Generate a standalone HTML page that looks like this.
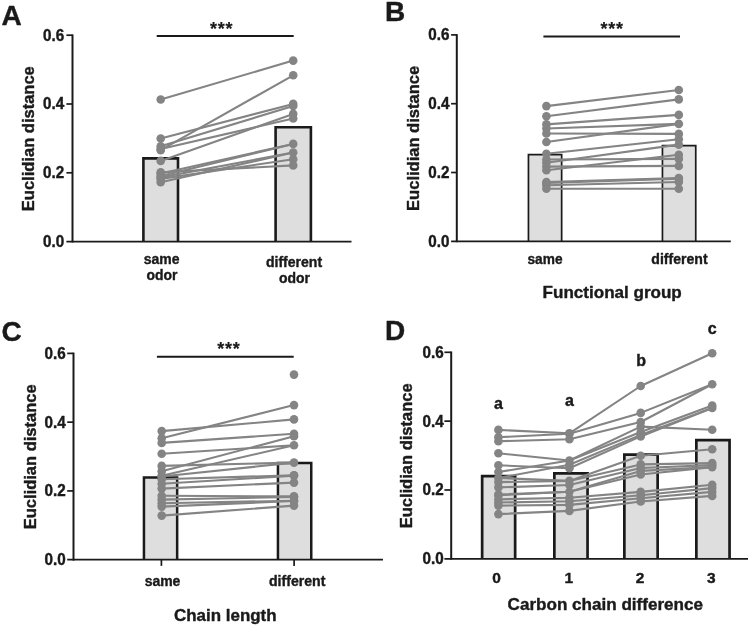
<!DOCTYPE html>
<html lang="en"><head><meta charset="utf-8"><title>Euclidian distance figure</title>
<style>html,body{margin:0;padding:0;background:#fff}body{width:749px;height:626px;overflow:hidden}svg{display:block;will-change:transform}text{font-family:"Liberation Sans",Arial,Helvetica,sans-serif;font-weight:700;stroke:#1a1a1a;stroke-width:.4px;stroke-linejoin:round}</style>
</head><body>
<svg width="749" height="626" viewBox="0 0 749 626" font-family='"Liberation Sans", Arial, Helvetica, sans-serif' font-weight="bold">
<rect width="749" height="626" fill="#ffffff"/>
<g>
<path d="M143.4 241.6 V158.4 H178.0 V241.6" fill="#dedede" stroke="#1a1a1a" stroke-width="2.6" stroke-linejoin="miter"/>
<path d="M275.6 241.6 V127.2 H310.9 V241.6" fill="#dedede" stroke="#1a1a1a" stroke-width="2.6" stroke-linejoin="miter"/>
<path d="M72.5 34.4 V242.5" stroke="#1a1a1a" stroke-width="2" fill="none"/>
<path d="M66.4 241.6 H351.5" stroke="#1a1a1a" stroke-width="1.8" fill="none"/>
<text x="64.2" y="247.0" font-size="15.6" text-anchor="end" fill="#1a1a1a" textLength="21.2" lengthAdjust="spacingAndGlyphs">0.0</text>
<path d="M66.4 172.8 H72.5" stroke="#1a1a1a" stroke-width="1.7" fill="none"/>
<text x="64.2" y="178.2" font-size="15.6" text-anchor="end" fill="#1a1a1a" textLength="21.2" lengthAdjust="spacingAndGlyphs">0.2</text>
<path d="M66.4 104.0 H72.5" stroke="#1a1a1a" stroke-width="1.7" fill="none"/>
<text x="64.2" y="109.4" font-size="15.6" text-anchor="end" fill="#1a1a1a" textLength="21.2" lengthAdjust="spacingAndGlyphs">0.4</text>
<path d="M66.4 35.2 H72.5" stroke="#1a1a1a" stroke-width="1.7" fill="none"/>
<text x="64.2" y="40.6" font-size="15.6" text-anchor="end" fill="#1a1a1a" textLength="21.2" lengthAdjust="spacingAndGlyphs">0.6</text>
<text x="34.4" y="138.7" font-size="16.5" text-anchor="middle" fill="#1a1a1a" textLength="145" lengthAdjust="spacingAndGlyphs" transform="rotate(-90 34.4 138.7)">Euclidian distance</text>
<g stroke="#848484" stroke-width="2.1" fill="none" stroke-linecap="round" stroke-linejoin="round"><path d="M160.7 99.5 L293.2 60.6"/><path d="M160.7 150.2 L293.2 75.3"/><path d="M160.7 138.5 L293.2 103.9"/><path d="M160.7 146.2 L293.2 106"/><path d="M160.7 160.9 L293.2 113.9"/><path d="M160.7 149 L293.2 118.5"/><path d="M160.7 172.3 L293.2 165.4"/><path d="M160.7 173.6 L293.2 143.9"/><path d="M160.7 176.1 L293.2 143.9"/><path d="M160.7 177.4 L293.2 152.5"/><path d="M160.7 178.9 L293.2 159.2"/><path d="M160.7 182.3 L293.2 152.5"/></g>
<g fill="#848484"><circle cx="160.7" cy="99.5" r="4.3"/><circle cx="293.2" cy="60.6" r="4.3"/><circle cx="160.7" cy="150.2" r="4.3"/><circle cx="293.2" cy="75.3" r="4.3"/><circle cx="160.7" cy="138.5" r="4.3"/><circle cx="293.2" cy="103.9" r="4.3"/><circle cx="160.7" cy="146.2" r="4.3"/><circle cx="293.2" cy="106" r="4.3"/><circle cx="160.7" cy="160.9" r="4.3"/><circle cx="293.2" cy="113.9" r="4.3"/><circle cx="160.7" cy="149" r="4.3"/><circle cx="293.2" cy="118.5" r="4.3"/><circle cx="160.7" cy="172.3" r="4.3"/><circle cx="293.2" cy="165.4" r="4.3"/><circle cx="160.7" cy="173.6" r="4.3"/><circle cx="293.2" cy="143.9" r="4.3"/><circle cx="160.7" cy="176.1" r="4.3"/><circle cx="160.7" cy="177.4" r="4.3"/><circle cx="293.2" cy="152.5" r="4.3"/><circle cx="160.7" cy="178.9" r="4.3"/><circle cx="293.2" cy="159.2" r="4.3"/><circle cx="160.7" cy="182.3" r="4.3"/></g>
<path d="M156.7 36 H293.7" stroke="#1a1a1a" stroke-width="2" fill="none"/>
<text x="221.3" y="34.8" font-size="18" text-anchor="middle" fill="#1a1a1a" textLength="22.4" lengthAdjust="spacing" style="stroke-width:.15px">***</text>
<text x="1.5" y="25" font-size="28" text-anchor="start" fill="#1a1a1a">A</text>
<text x="161.7" y="264.2" font-size="14.5" text-anchor="middle" fill="#1a1a1a" textLength="35.7" lengthAdjust="spacingAndGlyphs">same</text>
<text x="161.9" y="279.5" font-size="14.5" text-anchor="middle" fill="#1a1a1a" textLength="30.9" lengthAdjust="spacingAndGlyphs">odor</text>
<text x="294.0" y="267.3" font-size="14.5" text-anchor="middle" fill="#1a1a1a" textLength="56.2" lengthAdjust="spacingAndGlyphs">different</text>
<text x="294.5" y="283" font-size="14.5" text-anchor="middle" fill="#1a1a1a" textLength="31" lengthAdjust="spacingAndGlyphs">odor</text>
</g>
<g>
<path d="M528.45 241.3 V154.55 H561.65 V241.3" fill="#dedede" stroke="#1a1a1a" stroke-width="1.7" stroke-linejoin="miter"/>
<path d="M662.45 241.3 V145.55 H695.75 V241.3" fill="#dedede" stroke="#1a1a1a" stroke-width="1.7" stroke-linejoin="miter"/>
<path d="M456.8 34.1 V242.2" stroke="#1a1a1a" stroke-width="2" fill="none"/>
<path d="M451.1 241.3 H730.8" stroke="#1a1a1a" stroke-width="1.8" fill="none"/>
<text x="449.4" y="246.7" font-size="15.6" text-anchor="end" fill="#1a1a1a" textLength="21.2" lengthAdjust="spacingAndGlyphs">0.0</text>
<path d="M451.1 172.5 H456.8" stroke="#1a1a1a" stroke-width="1.7" fill="none"/>
<text x="449.4" y="177.9" font-size="15.6" text-anchor="end" fill="#1a1a1a" textLength="21.2" lengthAdjust="spacingAndGlyphs">0.2</text>
<path d="M451.1 103.7 H456.8" stroke="#1a1a1a" stroke-width="1.7" fill="none"/>
<text x="449.4" y="109.1" font-size="15.6" text-anchor="end" fill="#1a1a1a" textLength="21.2" lengthAdjust="spacingAndGlyphs">0.4</text>
<path d="M451.1 34.9 H456.8" stroke="#1a1a1a" stroke-width="1.7" fill="none"/>
<text x="449.4" y="40.3" font-size="15.6" text-anchor="end" fill="#1a1a1a" textLength="21.2" lengthAdjust="spacingAndGlyphs">0.6</text>
<text x="418.6" y="138.4" font-size="16.5" text-anchor="middle" fill="#1a1a1a" textLength="145" lengthAdjust="spacingAndGlyphs" transform="rotate(-90 418.6 138.4)">Euclidian distance</text>
<g stroke="#848484" stroke-width="2.1" fill="none" stroke-linecap="round" stroke-linejoin="round"><path d="M546.4 106.1 L678.8 90.0"/><path d="M546.4 116.3 L678.8 99.4"/><path d="M546.4 124.4 L678.8 114.9"/><path d="M546.4 128.5 L678.8 123.9"/><path d="M546.4 133.5 L678.8 133.9"/><path d="M546.4 142 L678.8 123.9"/><path d="M546.4 153.8 L678.8 139.2"/><path d="M546.4 162.7 L678.8 144.6"/><path d="M546.4 159.5 L678.8 158.9"/><path d="M546.4 170.2 L678.8 154.8"/><path d="M546.4 166.6 L678.8 165.9"/><path d="M546.4 182 L678.8 178.1"/><path d="M546.4 183 L678.8 178.6"/><path d="M546.4 185.2 L678.8 182"/><path d="M546.4 188.8 L678.8 188.8"/></g>
<g fill="#848484"><circle cx="546.4" cy="106.1" r="4.3"/><circle cx="678.8" cy="90.0" r="4.3"/><circle cx="546.4" cy="116.3" r="4.3"/><circle cx="678.8" cy="99.4" r="4.3"/><circle cx="546.4" cy="124.4" r="4.3"/><circle cx="678.8" cy="114.9" r="4.3"/><circle cx="546.4" cy="128.5" r="4.3"/><circle cx="678.8" cy="123.9" r="4.3"/><circle cx="546.4" cy="133.5" r="4.3"/><circle cx="678.8" cy="133.9" r="4.3"/><circle cx="546.4" cy="142" r="4.3"/><circle cx="546.4" cy="153.8" r="4.3"/><circle cx="678.8" cy="139.2" r="4.3"/><circle cx="546.4" cy="162.7" r="4.3"/><circle cx="678.8" cy="144.6" r="4.3"/><circle cx="546.4" cy="159.5" r="4.3"/><circle cx="678.8" cy="158.9" r="4.3"/><circle cx="546.4" cy="170.2" r="4.3"/><circle cx="678.8" cy="154.8" r="4.3"/><circle cx="546.4" cy="166.6" r="4.3"/><circle cx="678.8" cy="165.9" r="4.3"/><circle cx="546.4" cy="182" r="4.3"/><circle cx="678.8" cy="178.1" r="4.3"/><circle cx="546.4" cy="183" r="4.3"/><circle cx="678.8" cy="178.6" r="4.3"/><circle cx="546.4" cy="185.2" r="4.3"/><circle cx="678.8" cy="182" r="4.3"/><circle cx="546.4" cy="188.8" r="4.3"/><circle cx="678.8" cy="188.8" r="4.3"/></g>
<path d="M543.4 36.4 H680" stroke="#1a1a1a" stroke-width="2" fill="none"/>
<text x="611.7" y="34.8" font-size="18" text-anchor="middle" fill="#1a1a1a" textLength="22.4" lengthAdjust="spacing" style="stroke-width:.15px">***</text>
<text x="385" y="21" font-size="28" text-anchor="start" fill="#1a1a1a">B</text>
<text x="545" y="264.1" font-size="14.5" text-anchor="middle" fill="#1a1a1a" textLength="35" lengthAdjust="spacingAndGlyphs">same</text>
<text x="679.5" y="264.1" font-size="14.5" text-anchor="middle" fill="#1a1a1a" textLength="56.3" lengthAdjust="spacingAndGlyphs">different</text>
<text x="612.2" y="298.2" font-size="17" text-anchor="middle" fill="#1a1a1a" textLength="139.2" lengthAdjust="spacingAndGlyphs">Functional group</text>
</g>
<g>
<path d="M143.95 559.7 V477.45 H177.15 V559.7" fill="#dedede" stroke="#1a1a1a" stroke-width="2.5" stroke-linejoin="miter"/>
<path d="M277.95 559.7 V463.05 H311.25 V559.7" fill="#dedede" stroke="#1a1a1a" stroke-width="2.5" stroke-linejoin="miter"/>
<path d="M73.5 352.6 V560.6" stroke="#1a1a1a" stroke-width="2" fill="none"/>
<path d="M67.2 559.7 H383" stroke="#1a1a1a" stroke-width="1.8" fill="none"/>
<text x="65.80000000000001" y="565.1" font-size="15.6" text-anchor="end" fill="#1a1a1a" textLength="21.2" lengthAdjust="spacingAndGlyphs">0.0</text>
<path d="M67.2 490.93 H73.5" stroke="#1a1a1a" stroke-width="1.7" fill="none"/>
<text x="65.80000000000001" y="496.33" font-size="15.6" text-anchor="end" fill="#1a1a1a" textLength="21.2" lengthAdjust="spacingAndGlyphs">0.2</text>
<path d="M67.2 422.17 H73.5" stroke="#1a1a1a" stroke-width="1.7" fill="none"/>
<text x="65.80000000000001" y="427.57" font-size="15.6" text-anchor="end" fill="#1a1a1a" textLength="21.2" lengthAdjust="spacingAndGlyphs">0.4</text>
<path d="M67.2 353.4 H73.5" stroke="#1a1a1a" stroke-width="1.7" fill="none"/>
<text x="65.80000000000001" y="358.8" font-size="15.6" text-anchor="end" fill="#1a1a1a" textLength="21.2" lengthAdjust="spacingAndGlyphs">0.6</text>
<path d="M161.4 559.7 V565.9" stroke="#1a1a1a" stroke-width="1.7" fill="none"/>
<path d="M294.1 559.7 V565.9" stroke="#1a1a1a" stroke-width="1.7" fill="none"/>
<text x="35.8" y="456.85" font-size="16.5" text-anchor="middle" fill="#1a1a1a" textLength="145" lengthAdjust="spacingAndGlyphs" transform="rotate(-90 35.8 456.85)">Euclidian distance</text>
<g stroke="#848484" stroke-width="2.1" fill="none" stroke-linecap="round" stroke-linejoin="round"><path d="M161.7 431.1 L294 419.4"/><path d="M161.7 438.3 L294 405.1"/><path d="M161.7 442.9 L294 433.8"/><path d="M161.7 453.8 L294 445.3"/><path d="M161.7 465.9 L294 462.6"/><path d="M161.7 471.3 L294 436.2"/><path d="M161.7 475.7 L294 445.3"/><path d="M161.7 476.5 L294 462.6"/><path d="M161.7 479.3 L294 475.2"/><path d="M161.7 483.8 L294 475.6"/><path d="M161.7 488.6 L294 482.6"/><path d="M161.7 495.8 L294 496.4"/><path d="M161.7 499.6 L294 497"/><path d="M161.7 503.2 L294 500.7"/><path d="M161.7 506.6 L294 501"/><path d="M161.7 515.6 L294 505.6"/></g>
<g fill="#848484"><circle cx="161.7" cy="431.1" r="4.3"/><circle cx="294" cy="419.4" r="4.3"/><circle cx="161.7" cy="438.3" r="4.3"/><circle cx="294" cy="405.1" r="4.3"/><circle cx="161.7" cy="442.9" r="4.3"/><circle cx="294" cy="433.8" r="4.3"/><circle cx="161.7" cy="453.8" r="4.3"/><circle cx="294" cy="445.3" r="4.3"/><circle cx="161.7" cy="465.9" r="4.3"/><circle cx="294" cy="462.6" r="4.3"/><circle cx="161.7" cy="471.3" r="4.3"/><circle cx="294" cy="436.2" r="4.3"/><circle cx="161.7" cy="475.7" r="4.3"/><circle cx="161.7" cy="476.5" r="4.3"/><circle cx="161.7" cy="479.3" r="4.3"/><circle cx="294" cy="475.2" r="4.3"/><circle cx="161.7" cy="483.8" r="4.3"/><circle cx="294" cy="475.6" r="4.3"/><circle cx="161.7" cy="488.6" r="4.3"/><circle cx="294" cy="482.6" r="4.3"/><circle cx="161.7" cy="495.8" r="4.3"/><circle cx="294" cy="496.4" r="4.3"/><circle cx="161.7" cy="499.6" r="4.3"/><circle cx="294" cy="497" r="4.3"/><circle cx="161.7" cy="503.2" r="4.3"/><circle cx="294" cy="500.7" r="4.3"/><circle cx="161.7" cy="506.6" r="4.3"/><circle cx="294" cy="501" r="4.3"/><circle cx="161.7" cy="515.6" r="4.3"/><circle cx="294" cy="505.6" r="4.3"/><circle cx="294" cy="374.6" r="4.3"/></g>
<path d="M156.9 356.7 H293.7" stroke="#1a1a1a" stroke-width="2" fill="none"/>
<text x="228.5" y="354.8" font-size="18" text-anchor="middle" fill="#1a1a1a" textLength="22.4" lengthAdjust="spacing" style="stroke-width:.15px">***</text>
<text x="1.5" y="340.5" font-size="28" text-anchor="start" fill="#1a1a1a">C</text>
<text x="162.5" y="586.1" font-size="14.5" text-anchor="middle" fill="#1a1a1a" textLength="35.7" lengthAdjust="spacingAndGlyphs">same</text>
<text x="297.2" y="586.1" font-size="14.5" text-anchor="middle" fill="#1a1a1a" textLength="56.4" lengthAdjust="spacingAndGlyphs">different</text>
<text x="225.3" y="620.9" font-size="17" text-anchor="middle" fill="#1a1a1a" textLength="102.6" lengthAdjust="spacingAndGlyphs">Chain length</text>
</g>
<g>
<path d="M482.15 558.8 V476.05 H515.15 V558.8" fill="#dedede" stroke="#1a1a1a" stroke-width="2.7" stroke-linejoin="miter"/>
<path d="M554.35 558.8 V473.45 H587.55 V558.8" fill="#dedede" stroke="#1a1a1a" stroke-width="2.7" stroke-linejoin="miter"/>
<path d="M624.35 558.8 V454.55 H657.65 V558.8" fill="#dedede" stroke="#1a1a1a" stroke-width="2.7" stroke-linejoin="miter"/>
<path d="M696.35 558.8 V440.15 H729.55 V558.8" fill="#dedede" stroke="#1a1a1a" stroke-width="2.7" stroke-linejoin="miter"/>
<path d="M451.2 351.5 V559.7" stroke="#1a1a1a" stroke-width="2" fill="none"/>
<path d="M444.4 558.8 H748" stroke="#1a1a1a" stroke-width="1.8" fill="none"/>
<text x="443.7" y="564.2" font-size="15.6" text-anchor="end" fill="#1a1a1a" textLength="21.2" lengthAdjust="spacingAndGlyphs">0.0</text>
<path d="M444.4 489.97 H451.2" stroke="#1a1a1a" stroke-width="1.7" fill="none"/>
<text x="443.7" y="495.37" font-size="15.6" text-anchor="end" fill="#1a1a1a" textLength="21.2" lengthAdjust="spacingAndGlyphs">0.2</text>
<path d="M444.4 421.13 H451.2" stroke="#1a1a1a" stroke-width="1.7" fill="none"/>
<text x="443.7" y="426.53" font-size="15.6" text-anchor="end" fill="#1a1a1a" textLength="21.2" lengthAdjust="spacingAndGlyphs">0.4</text>
<path d="M444.4 352.3 H451.2" stroke="#1a1a1a" stroke-width="1.7" fill="none"/>
<text x="443.7" y="357.7" font-size="15.6" text-anchor="end" fill="#1a1a1a" textLength="21.2" lengthAdjust="spacingAndGlyphs">0.6</text>
<text x="411.8" y="455.85" font-size="16.5" text-anchor="middle" fill="#1a1a1a" textLength="145" lengthAdjust="spacingAndGlyphs" transform="rotate(-90 411.8 455.85)">Euclidian distance</text>
<g stroke="#848484" stroke-width="2.1" fill="none" stroke-linecap="round" stroke-linejoin="round"><path d="M498.4 429.9 L569.4 433.3 L640.7 386 L712.2 353.2"/><path d="M498.4 437.2 L569.4 433.8 L640.7 412.9 L712.2 384.3"/><path d="M498.4 441.2 L569.4 439.3 L640.7 422 L712.2 384.3"/><path d="M498.4 453.3 L569.4 460.5 L640.7 426.6 L712.2 429.7"/><path d="M498.4 472 L569.4 460.5 L640.7 432 L712.2 405.6"/><path d="M498.4 478 L569.4 464.8 L640.7 434.9 L712.2 407.9"/><path d="M498.4 465.3 L569.4 468.2 L640.7 436.4 L712.2 407.9"/><path d="M498.4 478 L569.4 480.9 L640.7 455.7 L712.2 449.3"/><path d="M498.4 482.1 L569.4 480.9 L640.7 464.4 L712.2 463.1"/><path d="M498.4 487.4 L569.4 485 L640.7 468 L712.2 465.1"/><path d="M498.4 495.3 L569.4 491.7 L640.7 470.9 L712.2 467.1"/><path d="M498.4 494.5 L569.4 491.7 L640.7 474.5 L712.2 467.1"/><path d="M498.4 499.4 L569.4 497.7 L640.7 491.9 L712.2 484.7"/><path d="M498.4 502.5 L569.4 501.3 L640.7 495.3 L712.2 488.1"/><path d="M498.4 505.6 L569.4 504.9 L640.7 498.2 L712.2 491.9"/><path d="M498.4 514.1 L569.4 510.9 L640.7 501.5 L712.2 495.9"/></g>
<g fill="#848484"><circle cx="498.4" cy="429.9" r="4.3"/><circle cx="569.4" cy="433.3" r="4.3"/><circle cx="640.7" cy="386" r="4.3"/><circle cx="712.2" cy="353.2" r="4.3"/><circle cx="498.4" cy="437.2" r="4.3"/><circle cx="569.4" cy="433.8" r="4.3"/><circle cx="640.7" cy="412.9" r="4.3"/><circle cx="712.2" cy="384.3" r="4.3"/><circle cx="498.4" cy="441.2" r="4.3"/><circle cx="569.4" cy="439.3" r="4.3"/><circle cx="640.7" cy="422" r="4.3"/><circle cx="498.4" cy="453.3" r="4.3"/><circle cx="569.4" cy="460.5" r="4.3"/><circle cx="640.7" cy="426.6" r="4.3"/><circle cx="712.2" cy="429.7" r="4.3"/><circle cx="498.4" cy="472" r="4.3"/><circle cx="640.7" cy="432" r="4.3"/><circle cx="712.2" cy="405.6" r="4.3"/><circle cx="498.4" cy="478" r="4.3"/><circle cx="569.4" cy="464.8" r="4.3"/><circle cx="640.7" cy="434.9" r="4.3"/><circle cx="712.2" cy="407.9" r="4.3"/><circle cx="498.4" cy="465.3" r="4.3"/><circle cx="569.4" cy="468.2" r="4.3"/><circle cx="640.7" cy="436.4" r="4.3"/><circle cx="569.4" cy="480.9" r="4.3"/><circle cx="640.7" cy="455.7" r="4.3"/><circle cx="712.2" cy="449.3" r="4.3"/><circle cx="498.4" cy="482.1" r="4.3"/><circle cx="640.7" cy="464.4" r="4.3"/><circle cx="712.2" cy="463.1" r="4.3"/><circle cx="498.4" cy="487.4" r="4.3"/><circle cx="569.4" cy="485" r="4.3"/><circle cx="640.7" cy="468" r="4.3"/><circle cx="712.2" cy="465.1" r="4.3"/><circle cx="498.4" cy="495.3" r="4.3"/><circle cx="569.4" cy="491.7" r="4.3"/><circle cx="640.7" cy="470.9" r="4.3"/><circle cx="712.2" cy="467.1" r="4.3"/><circle cx="498.4" cy="494.5" r="4.3"/><circle cx="640.7" cy="474.5" r="4.3"/><circle cx="498.4" cy="499.4" r="4.3"/><circle cx="569.4" cy="497.7" r="4.3"/><circle cx="640.7" cy="491.9" r="4.3"/><circle cx="712.2" cy="484.7" r="4.3"/><circle cx="498.4" cy="502.5" r="4.3"/><circle cx="569.4" cy="501.3" r="4.3"/><circle cx="640.7" cy="495.3" r="4.3"/><circle cx="712.2" cy="488.1" r="4.3"/><circle cx="498.4" cy="505.6" r="4.3"/><circle cx="569.4" cy="504.9" r="4.3"/><circle cx="640.7" cy="498.2" r="4.3"/><circle cx="712.2" cy="491.9" r="4.3"/><circle cx="498.4" cy="514.1" r="4.3"/><circle cx="569.4" cy="510.9" r="4.3"/><circle cx="640.7" cy="501.5" r="4.3"/><circle cx="712.2" cy="495.9" r="4.3"/></g>
<text x="498.5" y="408.5" font-size="16" text-anchor="middle" fill="#1a1a1a">a</text>
<text x="569.5" y="406" font-size="16" text-anchor="middle" fill="#1a1a1a">a</text>
<text x="641.2" y="366.2" font-size="16" text-anchor="middle" fill="#1a1a1a">b</text>
<text x="712.3" y="333.8" font-size="16" text-anchor="middle" fill="#1a1a1a">c</text>
<text x="385" y="340" font-size="28" text-anchor="start" fill="#1a1a1a">D</text>
<text x="496.6" y="582.8" font-size="15.5" text-anchor="middle" fill="#1a1a1a">0</text>
<text x="568.9" y="582.8" font-size="15.5" text-anchor="middle" fill="#1a1a1a">1</text>
<text x="640" y="582.8" font-size="15.5" text-anchor="middle" fill="#1a1a1a">2</text>
<text x="711.2" y="582.8" font-size="15.5" text-anchor="middle" fill="#1a1a1a">3</text>
<text x="605.3" y="609.6" font-size="17" text-anchor="middle" fill="#1a1a1a" textLength="195.5" lengthAdjust="spacingAndGlyphs">Carbon chain difference</text>
</g>
</svg>
</body></html>
